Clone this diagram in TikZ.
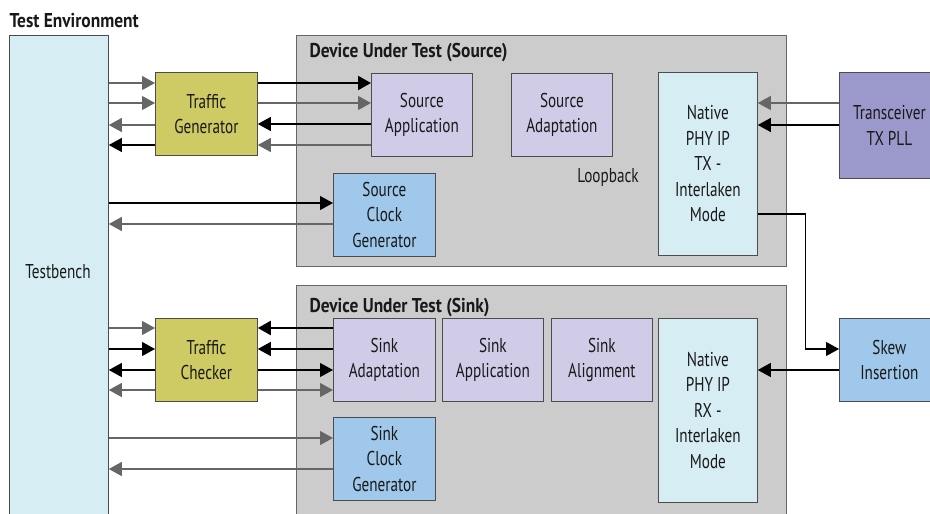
\documentclass[tikz,border=0pt]{standalone}
\usepackage{fontspec}
\setmainfont[FakeStretch=0.76]{PT Sans}
\newfontfamily\titlefont[FakeStretch=0.87]{PT Sans}
\usetikzlibrary{positioning, arrows.meta}

\definecolor{benchcyan}{HTML}{D6EDF3}
\definecolor{trafficolive}{HTML}{CFCB64}
\definecolor{dutgray}{HTML}{CCCCCC}
\definecolor{applavender}{HTML}{D0CBE7}
\definecolor{clockblue}{HTML}{9FC8EA}
\definecolor{pllviolet}{HTML}{9B98CB}
\definecolor{linegray}{HTML}{666666}

\begin{document}
\begin{tikzpicture}[
    x=1pt, y=-1pt,
    every node/.style={font=\fontsize{20}{25.5}\selectfont, text=black!90},
    base block/.style={
      rectangle,
      draw=black!70,
      line width=0.8pt,
      align=center,
      inner sep=0pt,
      anchor=north west
    },
    dut frame/.style={base block, fill=dutgray, draw=black!60, line width=1pt},
    traffic block/.style={base block, fill=trafficolive, minimum width=102pt, minimum height=83pt},
    app block/.style={base block, fill=applavender, minimum width=101pt, minimum height=83pt},
    clock block/.style={base block, fill=clockblue, minimum width=102pt, minimum height=83pt},
    phy block/.style={base block, fill=benchcyan, minimum width=99pt},
    frame title/.style={anchor=west, font=\fontsize{20}{22}\selectfont\titlefont\bfseries},
    sig arrow/.style={
      -{Triangle[length=13pt, width=14pt]},
      line width=1.2pt,
      color=black
    },
    gray sig/.style={sig arrow, color=linegray},
    bus arrow/.style={sig arrow, line width=2.2pt}
  ]

    \useasboundingbox (0,0) rectangle (930,514);
    \clip (0,0) rectangle (930,514);

    \node[frame title] (envtitle) at (6,21) {Test Environment};
    \node[base block, fill=benchcyan, minimum width=99pt, minimum height=500pt] (tb) at (9,35) {};
    \node (tblabel) at (58,272) {Testbench};

    \node[traffic block] (tg) at (155,72) {Traffic\\Generator};
    \node[traffic block] (tc) at (155,318) {Traffic\\Checker};

    % source side
    \node[dut frame, minimum width=490pt, minimum height=231pt] (srcdut) at (296,35) {};
    \node[frame title] (srctitle) at (306,53) {Device Under Test (Source)};
    \node[app block] (srcapp) at (371,73) {Source\\Application};
    \node[app block] (srcadapt) at (511,73) {Source\\Adaptation};
    \node[clock block] (srcclk) at (333,173) {Source\\Clock\\Generator};
    \node (loopback) at (608,177) {Loopback};
    \node[phy block, minimum height=183pt] (phytx) at (658,72) {Native\\PHY IP\\TX -\\Interlaken\\Mode};
    \node[base block, fill=pllviolet, minimum width=100pt, minimum height=106pt] (pll) at (839,72) {Transceiver\\TX PLL};

    % sink side
    \node[dut frame, minimum width=490pt, minimum height=250pt] (snkdut) at (296,285) {};
    \node[frame title] (snktitle) at (306,308) {Device Under Test (Sink)};
    \node[app block, minimum width=102pt] (snkadapt) at (333,318) {Sink\\Adaptation};
    \node[app block] (snkapp) at (442,318) {Sink\\Application};
    \node[app block] (snkalign) at (551,318) {Sink\\Alignment};
    \node[clock block] (snkclk) at (333,417) {Sink\\Clock\\Generator};
    \node[phy block, minimum height=184pt] (phyrx) at (658,318) {Native\\PHY IP\\RX -\\Interlaken\\Mode};
    \node[clock block, minimum width=100pt] (skew) at (839,318) {Skew\\Insertion};

    % testbench <-> traffic generator <-> source application
    \draw[gray sig] (tb.east |- 0,83) -- (tg.west |- 0,83);
    \draw[gray sig] (tb.east |- 0,103) -- (tg.west |- 0,103);
    \draw[gray sig] (tg.west |- 0,125) -- (tb.east |- 0,125);
    \draw[sig arrow] (tg.west |- 0,145) -- (tb.east |- 0,145);
    \draw[bus arrow] (tg.east |- 0,83) -- (srcapp.west |- 0,83);
    \draw[gray sig] (tg.east |- 0,103) -- (srcapp.west |- 0,103);
    \draw[sig arrow] (srcapp.west |- 0,124) -- (tg.east |- 0,124);
    \draw[gray sig] (srcapp.west |- 0,145) -- (tg.east |- 0,145);

    \draw[sig arrow] (tb.east |- 0,203) -- (srcclk.west |- 0,203);
    \draw[gray sig] (srcclk.west |- 0,224) -- (tb.east |- 0,224);

    \draw[gray sig] (pll.west |- 0,103) -- (phytx.east |- 0,103);
    \draw[sig arrow] (pll.west |- 0,125) -- (phytx.east |- 0,125);

    % loopback
    \draw[sig arrow] (phytx.east |- 0,214) -- ++(48,0) |- (skew.west |- 0,349);
    \draw[sig arrow] (skew.west |- 0,370) -- (phyrx.east |- 0,370);

    % testbench <-> traffic checker <-> sink adaptation
    \draw[gray sig] (tb.east |- 0,328) -- (tc.west |- 0,328);
    \draw[sig arrow] (tb.east |- 0,349) -- (tc.west |- 0,349);
    \draw[sig arrow] (tc.west |- 0,370) -- (tb.east |- 0,370);
    \draw[gray sig] (tc.west |- 0,390) -- (tb.east |- 0,390);
    \draw[bus arrow] (snkadapt.west |- 0,328) -- (tc.east |- 0,328);
    \draw[sig arrow] (snkadapt.west |- 0,349) -- (tc.east |- 0,349);
    \draw[sig arrow] (tc.east |- 0,370) -- (snkadapt.west |- 0,370);
    \draw[gray sig] (tc.east |- 0,390) -- (snkadapt.west |- 0,390);

    \draw[gray sig] (tb.east |- 0,438) -- (snkclk.west |- 0,438);
    \draw[gray sig] (snkclk.west |- 0,469) -- (tb.east |- 0,469);

  \end{tikzpicture}
\end{document}
